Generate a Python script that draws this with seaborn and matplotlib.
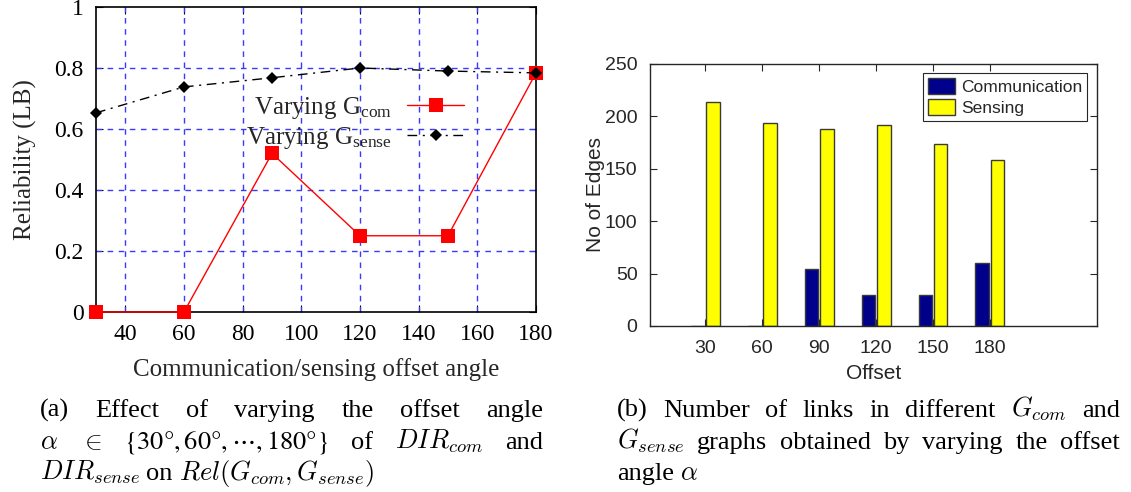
import numpy as np
import pandas as pd
import matplotlib
matplotlib.use("Agg")
import matplotlib.pyplot as plt
import seaborn as sns
from matplotlib.lines import Line2D

# ---------------- data ----------------
angles = [30, 60, 90, 120, 150, 180]
rel_com = [0.0, 0.0, 0.52, 0.25, 0.25, 0.784]
rel_sense = [0.653, 0.738, 0.768, 0.800, 0.790, 0.784]

offset_labels = ["30", "60", "90", "120", "150", "180"]
edges_comm = [0, 0, 54, 30, 30, 60]
edges_sense = [214, 194, 188, 192, 174, 158]
bar_series = ["Communication", "Sensing"]

sns.set_style("ticks")
plt.rcParams["font.family"] = ["Liberation Serif", "DejaVu Serif"]
plt.rcParams["mathtext.fontset"] = "custom"
plt.rcParams["mathtext.rm"] = "Liberation Serif"
plt.rcParams["mathtext.it"] = "Liberation Serif:italic"

W, H = 1131, 492
fig = plt.figure(figsize=(W / 100, H / 100), dpi=100)

# ---------------- left panel ----------------
ax1 = fig.add_axes([96 / W, 1 - 312 / H, (536 - 96) / W, (312 - 7) / H])
serif = ["Liberation Serif", "DejaVu Serif"]

sns.lineplot(x=angles, y=rel_com, ax=ax1, color="#ff0000", lw=1.0,
             marker="s", markersize=10, markeredgecolor="#ff0000",
             markeredgewidth=0, zorder=3)
sns.lineplot(x=angles, y=rel_sense, ax=ax1, color="black", lw=1.0,
             marker="D", markersize=6.5, markeredgecolor="black",
             markeredgewidth=0, zorder=4)
for ln in ax1.lines:
    ln.set_clip_on(False)
ax1.lines[1].set_dashes((7, 4, 1.5, 4))

ax1.set_xlim(30, 180)
ax1.set_ylim(0, 1)
ax1.set_xticks([40, 60, 80, 100, 120, 140, 160, 180])
ax1.set_yticks([0, 0.2, 0.4, 0.6, 0.8, 1.0])
ax1.set_yticklabels(["0", "0.2", "0.4", "0.6", "0.8", "1"])
ax1.tick_params(direction="in", length=5, width=0.8, top=True, right=True,
                labelsize=17, colors="black", pad=9)
for lab in ax1.get_xticklabels() + ax1.get_yticklabels():
    lab.set_family(serif)
for gx in [40, 60, 80, 100, 120, 140, 160]:
    ax1.axvline(gx, color="#3a3aff", lw=1.0, dashes=(4, 4), zorder=1)
for gy in [0.2, 0.4, 0.6, 0.8]:
    ax1.axhline(gy, color="#3a3aff", lw=1.0, dashes=(4, 4), zorder=1)
for sp in ax1.spines.values():
    sp.set_color("black")
    sp.set_linewidth(1.2)
ax1.set_xlabel("Communication/sensing offset angle", fontsize=18,
               family=serif, labelpad=9)
ax1.set_ylabel("Reliability (LB)", fontsize=18, family=serif, labelpad=12)

h_com = Line2D([], [], color="#ff0000", lw=1.0, marker="s", markersize=10,
               markeredgewidth=0)
h_sense = Line2D([], [], color="black", lw=1.0, marker="D", markersize=6.5,
                 markeredgewidth=0, dashes=(7, 4, 1.5, 4))
leg1 = ax1.legend([h_com, h_sense],
                  [r"Varying G$_{\mathrm{com}}$", r"Varying G$_{\mathrm{sense}}$"],
                  loc="center", bbox_to_anchor=(0.589, 0.62), frameon=False,
                  markerfirst=False, handlelength=2.3,
                  prop={"family": serif, "size": 18}, labelspacing=0.15,
                  handletextpad=0.6)

# ---------------- right panel ----------------
sans = ["Liberation Sans", "DejaVu Sans"]
ax2 = fig.add_axes([650 / W, 1 - 326 / H, (1097 - 650) / W, (326 - 64) / H])
df = pd.DataFrame({
    "Offset": offset_labels * 2,
    "Edges": edges_comm + edges_sense,
    "Kind": [bar_series[0]] * len(offset_labels) + [bar_series[1]] * len(offset_labels),
})
sns.barplot(data=df, x="Offset", y="Edges", hue="Kind", order=offset_labels,
            hue_order=bar_series,
            palette={"Communication": "#00008b", "Sensing": "#ffff00"},
            width=0.54, gap=0.12, edgecolor="#3a3a3a", linewidth=1.0,
            saturation=1, ax=ax2)
ax2.set_xlim(-0.97, 6.88)
ax2.set_ylim(0, 250)
ax2.set_yticks([0, 50, 100, 150, 200, 250])
gray = "#262626"
ax2.tick_params(direction="in", length=5, width=0.8, top=True, right=True,
                labelsize=14, colors=gray, labelcolor=gray, pad=9)
ax2.tick_params(axis="x", pad=10)
for lab in ax2.get_xticklabels() + ax2.get_yticklabels():
    lab.set_family(sans)
for sp in ax2.spines.values():
    sp.set_visible(True)
    sp.set_color(gray)
    sp.set_linewidth(1.0)
ax2.set_xlabel("Offset", fontsize=15, family=sans, color=gray, labelpad=5)
ax2.set_ylabel("No of Edges", fontsize=15, family=sans, color=gray, labelpad=0)
handles, labels = ax2.get_legend_handles_labels()
leg2 = ax2.legend(handles, labels, loc="upper right",
                  bbox_to_anchor=(0.978, 0.966), borderaxespad=0,
                  prop={"family": sans, "size": 12.5}, fancybox=False,
                  framealpha=1, edgecolor=gray, handlelength=1.6,
                  handleheight=1.0, labelspacing=0.25, handletextpad=0.3,
                  borderpad=0.3)
leg2.get_frame().set_linewidth(0.8)

# ---------------- captions ----------------
cap_kw = dict(fontsize=19, family=serif, va="baseline", color="black")


def place_line(parts, x0, x1, y_px, justify=True):
    texts = []
    for p in parts:
        if isinstance(p, tuple):
            s, mf = p
        else:
            s, mf = p, "cm"
        texts.append(fig.text(0, 1 - y_px / H, s, math_fontfamily=mf, **cap_kw))
    r = fig.canvas.get_renderer()
    widths = [t.get_window_extent(r).width for t in texts]
    if justify and len(parts) > 1:
        gap = (x1 - x0 - sum(widths)) / (len(parts) - 1)
    else:
        gap = 6
    x = x0
    for t, w in zip(texts, widths):
        t.set_x(x / W)
        x += w + gap


place_line(["(a)", "Effect", "of", "varying", "the", "offset", "angle"],
           40, 543, 417)
place_line([r"$\alpha$", r"$\in$",
            (r"$\{30°,60°,\cdots,180°\}$", "stix"),
            "of", r"$DIR_{com}$", "and"], 40, 543, 449)
place_line([r"$DIR_{sense}$", "on", r"$Rel(G_{com},G_{sense})$"], 40, 543, 480,
           justify=False)
place_line(["(b)", "Number", "of", "links", "in", "different", r"$G_{com}$", "and"],
           617, 1120, 417)
place_line([r"$G_{sense}$", "graphs", "obtained", "by", "varying", "the", "offset"],
           617, 1120, 449)
place_line(["angle", r"$\alpha$"], 617, 1120, 480, justify=False)

fig.savefig("out.png", dpi=100)
